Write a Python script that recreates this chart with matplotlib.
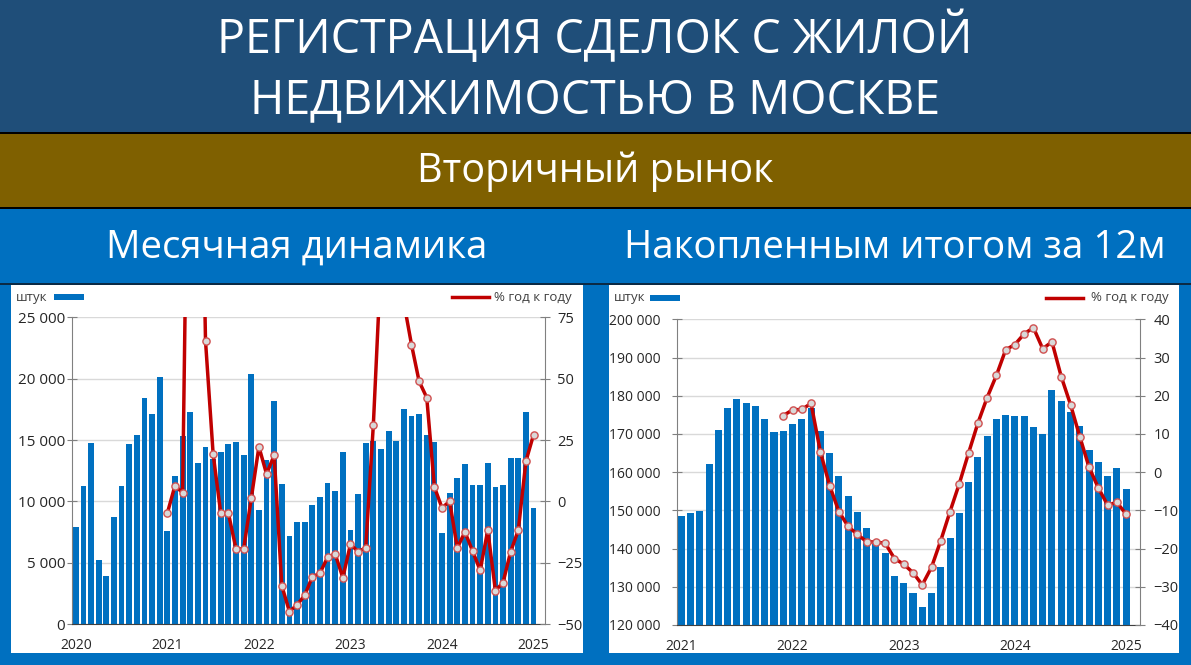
import numpy as np
import matplotlib.pyplot as plt
from matplotlib.patches import Rectangle
from matplotlib.lines import Line2D
from matplotlib.ticker import FuncFormatter

plt.rcParams['font.family'] = ['Open Sans', 'DejaVu Sans']

# ---- data: monthly registrations (left), Jan 2020 .. Jan 2025
month_years = ['2020', '2021', '2022', '2023', '2024', '2025']
month_vol = [7950, 11300, 14800, 5200, 3900, 8700, 11300, 14700, 15400, 18400, 17100, 20100,
             7600, 12050, 15300, 17300, 13100, 14400, 13500, 14000, 14700, 14850, 13800, 20400,
             9300, 13400, 18200, 11400, 7200, 8300, 8350, 9700, 10400, 11500, 10850, 14000,
             7700, 10650, 14750, 14950, 14250, 15750, 14900, 17550, 16950, 17150, 15400, 14850,
             7450, 10700, 11950, 13050, 11350, 11350, 13100, 11150, 11350, 13550, 13550, 17300,
             9500]
# % y/y, Jan 2021 .. Jan 2025
month_yoy = [-4.7, 6.5, 3.5, 234, 232, 65.4, 19.3, -4.8, -4.8, -19.3, -19.3, 1.3,
             22.3, 11.2, 18.8, -34.3, -44.8, -42.1, -38.2, -30.7, -29.2, -22.7, -21.4, -31.0,
             -17.4, -20.4, -18.9, 31.2, 98, 89, 79, 81, 63.9, 48.9, 42.3, 5.9,
             -2.6, 0.1, -18.9, -12.4, -20.1, -28.0, -11.7, -36.3, -33.0, -20.4, -11.7, 16.4,
             27.2]

# ---- data: rolling 12 months (right), Jan 2021 .. Jan 2025
roll_years = ['2021', '2022', '2023', '2024', '2025']
roll_vol = [148500, 149200, 149800, 162100, 171100, 176800, 179100, 178200, 177400, 173800, 170600, 170800,
            172500, 174000, 176900, 170800, 165000, 159000, 153800, 149600, 145300, 141200, 138900, 132700,
            130900, 128300, 124800, 128300, 135300, 142700, 149400, 157300, 163900, 169500, 173900, 174900,
            174600, 174700, 171900, 170000, 181400, 178600, 175800, 172000, 165900, 162600, 159100, 161000,
            155700]
# % y/y, Dec 2021 .. Jan 2025
roll_yoy = [14.8,
            16.3, 16.4, 18.0, 5.4, -3.5, -10.3, -14.2, -16.3, -18.2, -18.3, -18.6, -22.6,
            -24.1, -26.3, -29.5, -24.9, -17.9, -10.3, -3.0, 5.0, 12.8, 19.5, 25.3, 32.0,
            33.4, 36.2, 37.8, 32.3, 34.1, 25.0, 17.7, 9.3, 1.3, -4.1, -8.6, -7.9,
            -11.0]

BAR = '#0070C0'
RED = '#C00000'
W, H = 1191, 665

fig = plt.figure(figsize=(W / 100, H / 100), dpi=100)


def box(x0, y0, x1, y1, color):
    fig.add_artist(Rectangle((x0 / W, 1 - y1 / H), (x1 - x0) / W, (y1 - y0) / H,
                             transform=fig.transFigure, facecolor=color, edgecolor='none', zorder=0))


def txt(x, y, s, **kw):
    fig.text(x / W, 1 - y / H, s, **kw)


# background bands
box(0, 0, W, 132, '#1F4E79')
box(0, 132, W, 134, '#000000')
box(0, 134, W, 207, '#7F6000')
box(0, 207, W, 209, '#000000')
box(0, 209, W, H, BAR)
box(0, 283, W, 285, '#0B2A45')
box(11, 285, 583, 653, 'white')
box(609, 285, 1179, 653, 'white')

txt(595, 37, 'РЕГИСТРАЦИЯ СДЕЛОК С ЖИЛОЙ', color='white', fontsize=33.6, ha='center', va='center')
txt(595, 100, 'НЕДВИЖИМОСТЬЮ В МОСКВЕ', color='white', fontsize=33.6, ha='center', va='center')
txt(595, 172, 'Вторичный рынок', color='white', fontsize=28.5, ha='center', va='center')
txt(297, 248, 'Месячная динамика', color='white', fontsize=27.6, ha='center', va='center')
txt(895, 248, 'Накопленным итогом за 12м', color='white', fontsize=27.6, ha='center', va='center')


def legend(x_unit, x_bar, x_line, x_text, y):
    txt(x_unit, y, 'штук', fontsize=9.5, color='#404040', ha='left', va='center')
    box(x_bar, y - 3, x_bar + 30, y + 3, BAR)
    fig.add_artist(Line2D([x_line / W, (x_line + 37) / W], [1 - y / H, 1 - y / H],
                          transform=fig.transFigure, color=RED, lw=2.5))
    txt(x_text, y, '% год к году', fontsize=9.5, color='#404040', ha='left', va='center')


legend(16, 54, 452, 494, 297)
legend(614, 650, 1046, 1091, 298)

space_fmt = FuncFormatter(lambda v, p: f'{v:,.0f}'.replace(',', ' '))


def panel(rect, vol, yoy, years, ylim, yticks, ylim2, yticks2, ncat, fs, lpad, rpad):
    x0, y0, x1, y1 = rect
    ax = fig.add_axes([x0 / W, 1 - y1 / H, (x1 - x0) / W, (y1 - y0) / H])
    x = np.arange(len(vol))
    ax.bar(x, vol, width=0.76, color=BAR, zorder=2)
    ax.set_xlim(-0.5, ncat - 0.5)
    ax.set_ylim(*ylim)
    ax.set_yticks(yticks)
    ax.yaxis.set_major_formatter(space_fmt)
    ax.set_xticks(np.arange(len(years)) * 12)
    ax.set_xticklabels(years)
    ax.grid(axis='y', color='#D9D9D9', lw=1)
    ax.set_axisbelow(True)
    for s in ['top', 'right']:
        ax.spines[s].set_visible(False)
    ax.spines['left'].set_color('#808080')
    ax.spines['bottom'].set_color('#404040')
    ax.tick_params(axis='x', length=0, pad=10, labelsize=10, labelcolor='#262626')
    ax.tick_params(axis='y', direction='inout', length=7, color='#808080', pad=lpad,
                   labelsize=fs, labelcolor='#262626')

    ax2 = ax.twinx()
    xl = x[len(vol) - len(yoy):]
    ax2.plot(xl, yoy, color=RED, lw=2.5, marker='o', markersize=5.2,
             markerfacecolor='#D9D9D9', markeredgecolor='#D05050', markeredgewidth=1, zorder=3)
    ax2.set_ylim(*ylim2)
    ax2.set_yticks(yticks2)
    for s in ['top', 'left', 'bottom']:
        ax2.spines[s].set_visible(False)
    ax2.spines['right'].set_color('#808080')
    ax2.tick_params(axis='y', direction='inout', length=7, color='#808080', pad=rpad,
                    labelsize=10.5, labelcolor='#262626')
    return ax, ax2


panel((72, 317.3, 545, 624.3), month_vol, month_yoy, month_years,
      (0, 25000), range(0, 25001, 5000), (-50, 75), range(-50, 76, 25), 62, 11, 1.5, 5.5)
panel((676.7, 319.3, 1140, 625), roll_vol, roll_yoy, roll_years,
      (120000, 200000), range(120000, 200001, 10000), (-40, 40), range(-40, 41, 10), 50, 10, 8, 6)

fig.savefig('out.png', dpi=100)
